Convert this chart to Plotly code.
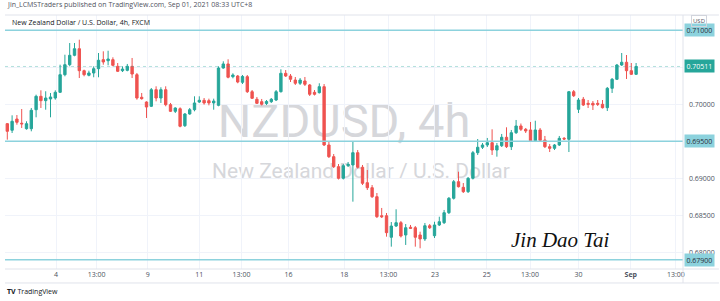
import plotly.graph_objects as go

# ---------------- data (NZDUSD 4h, FXCM) ----------------
opens = [0.69738, 0.69649, 0.69801, 0.69744, 0.69670, 0.69670, 0.69927, 0.70108, 0.70049, 0.70072,
         0.70085, 0.70162, 0.70400, 0.70535, 0.70662, 0.70751, 0.70454, 0.70392, 0.70423, 0.70481,
         0.70603, 0.70589, 0.70603, 0.70513, 0.70454, 0.70459, 0.70513, 0.70400, 0.70095, 0.70031,
         0.69973, 0.70197, 0.70085, 0.70197, 0.69995, 0.69905, 0.69940, 0.69711, 0.69869, 0.69927,
         0.70031, 0.70054, 0.70049, 0.70018, 0.69986, 0.70490, 0.70545, 0.70373, 0.70382, 0.70297,
         0.70373, 0.70170, 0.70068, 0.70035, 0.70011, 0.70035, 0.70058, 0.70170, 0.70419, 0.70382,
         0.70328, 0.70284, 0.70315, 0.70261, 0.70162, 0.70157, 0.70238, 0.69450, 0.69292, 0.69157,
         0.69000, 0.69170, 0.69180, 0.69346, 0.69149, 0.68940, 0.68873, 0.68751, 0.68494, 0.68494,
         0.68203, 0.68355, 0.68400, 0.68234, 0.68338, 0.68332, 0.68234, 0.68180, 0.68359, 0.68224,
         0.68369, 0.68400, 0.68535, 0.68730, 0.68954, 0.68878, 0.68819, 0.69000, 0.69346, 0.69419,
         0.69450, 0.69481, 0.69382, 0.69440, 0.69554, 0.69427, 0.69616, 0.69707, 0.69662, 0.69653,
         0.69508, 0.69653, 0.69517, 0.69427, 0.69405, 0.69450, 0.69540, 0.69527, 0.70170, 0.69932,
         0.70068, 0.70013, 0.70013, 0.70013, 0.70000, 0.69954, 0.70216, 0.70338, 0.70531, 0.70568,
         0.70454, 0.70405]
highs = [0.69747, 0.69851, 0.69855, 0.69936, 0.69770, 0.69950, 0.70130, 0.70189, 0.70176, 0.70153,
         0.70189, 0.70535, 0.70670, 0.70828, 0.70828, 0.70873, 0.70468, 0.70454, 0.70513, 0.70693,
         0.70716, 0.70724, 0.70635, 0.70558, 0.70513, 0.70545, 0.70626, 0.70423, 0.70153, 0.70040,
         0.70220, 0.70243, 0.70230, 0.70243, 0.70018, 0.69959, 0.69959, 0.69882, 0.69950, 0.70108,
         0.70108, 0.70085, 0.70076, 0.70076, 0.70513, 0.70581, 0.70608, 0.70419, 0.70396, 0.70396,
         0.70396, 0.70193, 0.70099, 0.70072, 0.70058, 0.70085, 0.70193, 0.70473, 0.70463, 0.70409,
         0.70369, 0.70355, 0.70369, 0.70274, 0.70193, 0.70284, 0.70274, 0.69504, 0.69328, 0.69193,
         0.69193, 0.69220, 0.69495, 0.69382, 0.69180, 0.69112, 0.68909, 0.68801, 0.68599, 0.68531,
         0.68409, 0.68581, 0.68423, 0.68382, 0.68369, 0.68355, 0.68278, 0.68396, 0.68382, 0.68413,
         0.68481, 0.68572, 0.68747, 0.68977, 0.69089, 0.68936, 0.69017, 0.69369, 0.69531, 0.69477,
         0.69545, 0.69662, 0.69477, 0.69599, 0.69689, 0.69653, 0.69788, 0.69740, 0.69680, 0.69761,
         0.69778, 0.69680, 0.69572, 0.69463, 0.69463, 0.69572, 0.69558, 0.70180, 0.70193, 0.70085,
         0.70099, 0.70058, 0.70044, 0.70058, 0.70058, 0.70234, 0.70355, 0.70545, 0.70693, 0.70666,
         0.70558, 0.70558]
lows = [0.69522, 0.69612, 0.69724, 0.69680, 0.69657, 0.69635, 0.69824, 0.69950, 0.69927, 0.69824,
        0.70062, 0.70153, 0.70378, 0.70513, 0.70649, 0.70355, 0.70378, 0.70378, 0.70365, 0.70365,
        0.70535, 0.70527, 0.70513, 0.70436, 0.70436, 0.70446, 0.70355, 0.70062, 0.70062, 0.69815,
        0.69963, 0.70040, 0.70018, 0.69973, 0.69896, 0.69882, 0.69689, 0.69693, 0.69859, 0.69905,
        0.70018, 0.69995, 0.69986, 0.69927, 0.69973, 0.70481, 0.70351, 0.70351, 0.70284, 0.70274,
        0.70153, 0.70072, 0.70004, 0.69984, 0.69990, 0.70018, 0.70044, 0.70159, 0.70369, 0.70301,
        0.70261, 0.70261, 0.70247, 0.70112, 0.70119, 0.70146, 0.69436, 0.69274, 0.69139, 0.68984,
        0.68984, 0.69153, 0.68684, 0.69132, 0.68909, 0.68842, 0.68734, 0.68463, 0.68463, 0.68211,
        0.68076, 0.68342, 0.68200, 0.68099, 0.68315, 0.68076, 0.68054, 0.68153, 0.68315, 0.68193,
        0.68355, 0.68382, 0.68517, 0.68713, 0.68876, 0.68801, 0.68801, 0.68984, 0.69315, 0.69396,
        0.69423, 0.69315, 0.69292, 0.69423, 0.69409, 0.69382, 0.69599, 0.69639, 0.69612, 0.69490,
        0.69490, 0.69497, 0.69409, 0.69355, 0.69382, 0.69436, 0.69517, 0.69355, 0.70099, 0.69882,
        0.69977, 0.69950, 0.69923, 0.69977, 0.69943, 0.69909, 0.70153, 0.70328, 0.70518, 0.70342,
        0.70396, 0.70396]
closes = [0.69635, 0.69770, 0.69757, 0.69736, 0.69738, 0.69919, 0.70108, 0.70049, 0.70085, 0.70099,
          0.70162, 0.70400, 0.70535, 0.70662, 0.70751, 0.70454, 0.70400, 0.70423, 0.70481, 0.70595,
          0.70572, 0.70612, 0.70527, 0.70446, 0.70477, 0.70513, 0.70409, 0.70085, 0.70076, 0.69963,
          0.70197, 0.70085, 0.70197, 0.69995, 0.69905, 0.69950, 0.69703, 0.69869, 0.69927, 0.70018,
          0.70054, 0.70018, 0.70018, 0.70044, 0.70490, 0.70545, 0.70365, 0.70396, 0.70301, 0.70376,
          0.70170, 0.70081, 0.70013, 0.70000, 0.70038, 0.70068, 0.70170, 0.70419, 0.70382, 0.70338,
          0.70284, 0.70328, 0.70270, 0.70135, 0.70135, 0.70238, 0.69450, 0.69292, 0.69157, 0.69000,
          0.69170, 0.69189, 0.69346, 0.69149, 0.68932, 0.68873, 0.68751, 0.68481, 0.68481, 0.68265,
          0.68355, 0.68400, 0.68220, 0.68332, 0.68324, 0.68203, 0.68180, 0.68359, 0.68332, 0.68369,
          0.68413, 0.68535, 0.68730, 0.68954, 0.68886, 0.68819, 0.69000, 0.69346, 0.69419, 0.69450,
          0.69481, 0.69382, 0.69440, 0.69554, 0.69427, 0.69616, 0.69707, 0.69662, 0.69639, 0.69508,
          0.69653, 0.69513, 0.69427, 0.69405, 0.69450, 0.69540, 0.69531, 0.70170, 0.70116, 0.70058,
          0.69990, 0.70000, 0.69990, 0.70000, 0.69954, 0.70216, 0.70338, 0.70531, 0.70568, 0.70454,
          0.70405, 0.70511]
bar_index = list(range(len(opens)))

# time-axis labels (placed at bar-index positions)
tick_positions = [10.15, 18.6, 29.25, 40.0, 48.8, 58.6, 70.2, 79.4, 89.1, 99.9, 108.9, 119.0, 129.9, 139.3]
tick_labels = ["4", "13:00", "9", "11", "13:00", "16", "18", "13:00", "23", "25", "13:00", "30",
               "<b>Sep</b>", "13:00"]

# price axis (labels hidden where a level / last-price box sits)
price_ticks = [0.680, 0.685, 0.690, 0.695, 0.700, 0.705, 0.710]
price_tick_labels = ["0.68000", "0.68500", "0.69000", "", "0.70000", "", ""]

# user-drawn horizontal levels
level_values = [0.71000, 0.69500, 0.67900]
level_labels = ["0.71000", "0.69500", "0.67900"]
last_price = 0.70511

UP = "#26a69a"
DOWN = "#ef5350"
LEVEL = "#8cd2dd"
GRID = "#f0f3fa"
TXT = "#4c525e"
FONT = "Open Sans"

fig = go.Figure()
fig.add_trace(go.Candlestick(
    x=bar_index, open=opens, high=highs, low=lows, close=closes,
    increasing=dict(line=dict(color=UP, width=1), fillcolor=UP),
    decreasing=dict(line=dict(color=DOWN, width=1), fillcolor=DOWN),
    whiskerwidth=0, showlegend=False, hoverinfo="skip"))

shapes = []
# watermark (drawn beneath the candles)
shapes.append(dict(type="rect", xref="paper", yref="paper", x0=0.49, x1=0.51, y0=0.59, y1=0.60,
                   line=dict(width=0), fillcolor="rgba(0,0,0,0)", layer="below",
                   label=dict(text="NZDUSD, 4h", textposition="middle center",
                              font=dict(family="Roboto", size=47, color="#d6d7db"))))
shapes.append(dict(type="rect", xref="paper", yref="paper", x0=0.515, x1=0.535, y0=0.39, y1=0.40,
                   line=dict(width=0), fillcolor="rgba(0,0,0,0)", layer="below",
                   label=dict(text="New Zealand Dollar / U.S. Dollar", textposition="middle center",
                              font=dict(family="Roboto", size=21, color="#d6d7db"))))
# last price line
shapes.append(dict(type="line", xref="paper", yref="y", x0=0, x1=1, y0=last_price, y1=last_price,
                   line=dict(color="rgba(38,166,154,0.35)", width=1, dash="dot")))
# horizontal levels
for v in level_values:
    shapes.append(dict(type="line", xref="paper", yref="y", x0=0, x1=1, y0=v, y1=v,
                       line=dict(color=LEVEL, width=1.6)))
# pane borders / time-axis box
shapes.append(dict(type="line", xref="paper", yref="paper", x0=0, x1=1.053, y0=1, y1=1,
                   line=dict(color="#e0e3eb", width=1)))
shapes.append(dict(type="line", xref="paper", yref="paper", x0=0, x1=1.053, y0=0, y1=0,
                   line=dict(color="#e0e3eb", width=1)))
shapes.append(dict(type="line", xref="paper", yref="paper", x0=0, x1=1.053, y0=-0.055, y1=-0.055,
                   line=dict(color="#e0e3eb", width=1)))
shapes.append(dict(type="line", xref="paper", yref="paper", x0=1, x1=1, y0=-0.055, y1=1,
                   line=dict(color="#e0e3eb", width=1)))

annotations = []
for v, t in zip(level_values, level_labels):
    annotations.append(dict(xref="paper", yref="y", x=1, y=v, xanchor="left", yanchor="middle",
                            xshift=1, text=t, showarrow=False, bgcolor=LEVEL, borderpad=1.5,
                            font=dict(family=FONT, size=7, color="#2a2e39")))
annotations.append(dict(xref="paper", yref="y", x=1, y=last_price, xanchor="left", yanchor="middle",
                        xshift=1, text=f"{last_price:.5f}", showarrow=False, bgcolor=UP, borderpad=1.5,
                        font=dict(family=FONT, size=7, color="white")))
annotations.append(dict(xref="paper", yref="paper", x=1.0236, y=0.978, xanchor="center", yanchor="middle",
                        text="USD", showarrow=False, bordercolor="#d1d4dc", borderwidth=1, borderpad=1,
                        font=dict(family=FONT, size=6, color=TXT)))
annotations.append(dict(xref="paper", yref="paper", x=0, y=1.04, xanchor="left", yanchor="middle",
                        text="Jin_LCMSTraders published on TradingView.com, Sep 01, 2021 08:33 UTC+8",
                        showarrow=False, font=dict(family=FONT, size=7, color="#50535e")))
annotations.append(dict(xref="paper", yref="paper", x=0.0075, y=0.972, xanchor="left", yanchor="middle",
                        text="New Zealand Dollar / U.S. Dollar, 4h, FXCM",
                        showarrow=False, font=dict(family=FONT, size=7, color="#131722")))
annotations.append(dict(xref="paper", yref="paper", x=0.8186, y=0.115, xanchor="center", yanchor="middle",
                        text="Jin Dao Tai", showarrow=False,
                        font=dict(family="Liberation Serif", size=21, color="#111111", style="italic")))
annotations.append(dict(xref="paper", yref="paper", x=0, y=-0.09, xanchor="left", yanchor="middle",
                        text="<b>TV</b> TradingView", showarrow=False,
                        font=dict(family=FONT, size=7, color="#131722")))

fig.update_layout(
    width=720, height=301, autosize=False,
    margin=dict(l=5, r=37, t=15, b=32, pad=0),
    paper_bgcolor="white", plot_bgcolor="white",
    shapes=shapes, annotations=annotations,
    xaxis=dict(range=[-0.479, 140.77], rangeslider=dict(visible=False),
               tickmode="array", tickvals=tick_positions, ticktext=tick_labels,
               showgrid=True, gridcolor=GRID, gridwidth=1, zeroline=False, showline=False,
               ticks="", tickfont=dict(family=FONT, size=7, color=TXT), fixedrange=True),
    yaxis=dict(range=[0.677741, 0.712067], side="right",
               tickmode="array", tickvals=price_ticks, ticktext=price_tick_labels,
               showgrid=True, gridcolor=GRID, gridwidth=1, zeroline=False, showline=False,
               ticks="", ticklabelstandoff=5,
               tickfont=dict(family=FONT, size=7, color=TXT), fixedrange=True),
)

fig.write_html("out.html")
